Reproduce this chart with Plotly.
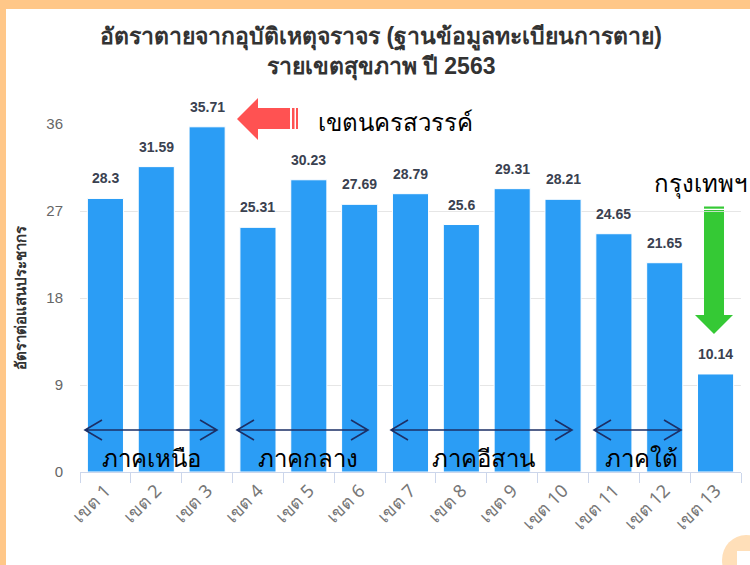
import plotly.graph_objects as go

# ---- data ----
categories = ["เขต 1", "เขต 2", "เขต 3", "เขต 4", "เขต 5", "เขต 6", "เขต 7",
              "เขต 8", "เขต 9", "เขต 10", "เขต 11", "เขต 12", "เขต 13"]
rates = [28.3, 31.59, 35.71, 25.31, 30.23, 27.69, 28.79, 25.6, 29.31, 28.21, 24.65, 21.65, 10.14]
y_ticks = [0, 9, 18, 27, 36]
title_text = "อัตราตายจากอุบัติเหตุจราจร (ฐานข้อมูลทะเบียนการตาย)<br>รายเขตสุขภาพ ปี 2563"
y_title = "อัตราต่อแสนประชากร"
regions = ["ภาคเหนือ", "ภาคกลาง", "ภาคอีสาน", "ภาคใต้"]
note_red = "เขตนครสวรรค์"
note_green = "กรุงเทพฯ"

# ---- layout geometry (pixels) ----
W, H = 750, 565
L, R, T, B = 80, 741, 124, 472


def X(px):
    return (px - L) / (R - L)


def Y(py):
    return (B - py) / (B - T)


def poly(points):
    return "M " + " L ".join(f"{X(a):.5f},{Y(b):.5f}" for a, b in points) + " Z"


fig = go.Figure()
fig.add_trace(go.Bar(
    x=categories, y=rates,
    marker=dict(color="#2b9df5", line=dict(color="white", width=1)),
    hoverinfo="x+y",
))

annotations = []
# data labels
for c, v in zip(categories, rates):
    annotations.append(dict(
        x=c, y=v, xref="x", yref="y", text=f"{v:g}", showarrow=False,
        yanchor="bottom", yshift=10,
        font=dict(family="Liberation Sans, Arial, sans-serif", size=14, color="#3a4150", weight="bold"),
    ))

# y axis title
annotations.append(dict(
    x=X(20), y=0.5, xref="paper", yref="paper", text=y_title, showarrow=False,
    textangle=-90, xanchor="center", yanchor="middle",
    font=dict(family="Liberation Sans, Arial, sans-serif", size=15, color="#333333", weight="bold"),
))

note_font = dict(family="Noto Sans, sans-serif", size=24, color="#000000")
annotations.append(dict(x=X(316), y=Y(121), xref="paper", yref="paper", text=note_red,
                        showarrow=False, xanchor="left", yanchor="middle", font=note_font))
annotations.append(dict(x=X(652), y=Y(182), xref="paper", yref="paper", text=note_green,
                        showarrow=False, xanchor="left", yanchor="middle", font=note_font))

region_text_x = [151, 308, 483, 641]
for name, cx in zip(regions, region_text_x):
    annotations.append(dict(x=X(cx), y=Y(457), xref="paper", yref="paper", text=name,
                            showarrow=False, xanchor="center", yanchor="middle", font=note_font))

shapes = []
# orange frame pieces
orange = "#ffc788"
shapes.append(dict(type="rect", xref="paper", yref="paper", x0=X(0), x1=X(750), y0=Y(0), y1=Y(9),
                   fillcolor=orange, line=dict(width=0), layer="above"))
shapes.append(dict(type="rect", xref="paper", yref="paper", x0=X(0), x1=X(6), y0=Y(0), y1=Y(565),
                   fillcolor=orange, line=dict(width=0), layer="above"))
shapes.append(dict(type="circle", xref="paper", yref="paper", x0=X(722), x1=X(770), y0=Y(535), y1=Y(585),
                   fillcolor="#ffd7a8", line=dict(width=0), layer="above", opacity=0.8))
shapes.append(dict(type="rect", xref="paper", yref="paper", x0=X(737), x1=X(752), y0=Y(551), y1=Y(567),
                   fillcolor="white", line=dict(width=0), layer="above"))

# red arrow (pointing left)
red = "#ff5252"
shapes.append(dict(type="path", xref="paper", yref="paper", layer="above",
                   path=poly([(237, 119), (258, 98), (258, 108), (290, 108), (290, 129),
                              (258, 129), (258, 140)]),
                   fillcolor=red, line=dict(width=0)))
for a, b in [(292, 294.5), (296, 298)]:
    shapes.append(dict(type="rect", xref="paper", yref="paper", x0=X(a), x1=X(b), y0=Y(129), y1=Y(108),
                       fillcolor=red, line=dict(width=0), layer="above"))

# green arrow (pointing down)
green = "#35c935"
shapes.append(dict(type="path", xref="paper", yref="paper", layer="above",
                   path=poly([(704, 212), (724, 212), (724, 315), (733, 315), (714, 334),
                              (695, 315), (704, 315)]),
                   fillcolor=green, line=dict(width=0)))
for a, b in [(206.5, 208.7), (210, 211.2)]:
    shapes.append(dict(type="rect", xref="paper", yref="paper", x0=X(704), x1=X(724), y0=Y(b), y1=Y(a),
                       fillcolor=green, line=dict(width=0), layer="above"))

# region double-headed arrows
navy = "#1c2f66"
arrow_spans = [(85, 217), (237, 368), (391, 572), (594, 681)]
ay = 430
for x0, x1 in arrow_spans:
    p = (f"M {X(x0):.5f},{Y(ay):.5f} L {X(x1):.5f},{Y(ay):.5f} "
         f"M {X(x0+17):.5f},{Y(ay-10):.5f} L {X(x0):.5f},{Y(ay):.5f} L {X(x0+17):.5f},{Y(ay+10):.5f} "
         f"M {X(x1-17):.5f},{Y(ay-10):.5f} L {X(x1):.5f},{Y(ay):.5f} L {X(x1-17):.5f},{Y(ay+10):.5f}")
    shapes.append(dict(type="path", xref="paper", yref="paper", path=p, layer="above",
                       line=dict(color=navy, width=1.6)))

fig.update_layout(
    width=W, height=H, autosize=False,
    margin=dict(l=L, r=W - R, t=T, b=H - B, pad=0),
    paper_bgcolor="white", plot_bgcolor="white",
    font=dict(family="Liberation Sans, Arial, sans-serif"),
    title=dict(text=title_text, xref="container", yref="container", x=381 / W, xanchor="center",
               y=1 - 44 / H, yanchor="middle",
               font=dict(family="Liberation Sans, Arial, sans-serif", size=23, color="#333333", weight="bold")),
    bargap=0.29,
    showlegend=False,
    xaxis=dict(type="category", categoryorder="array", categoryarray=categories,
               tickangle=-45, tickfont=dict(family="Noto Sans, sans-serif", size=18, color="#777777"),
               ticks="outside", tickson="boundaries", ticklen=10, tickcolor="#ccd6eb",
               showline=True, linecolor="#ccd6eb", linewidth=1, showgrid=False),
    yaxis=dict(range=[0, 36], tickvals=y_ticks, tickfont=dict(size=15, color="#666666"),
               showgrid=True, gridcolor="#e6e6e6", zeroline=False, showline=False,
               ticks="", ticklabelstandoff=16),
    annotations=annotations,
    shapes=shapes,
)

fig.write_html("out.html",
               config={"displayModeBar": False},
               post_script="document.body.style.margin='0';document.body.style.padding='0';"
                           "document.body.style.overflow='hidden';")
